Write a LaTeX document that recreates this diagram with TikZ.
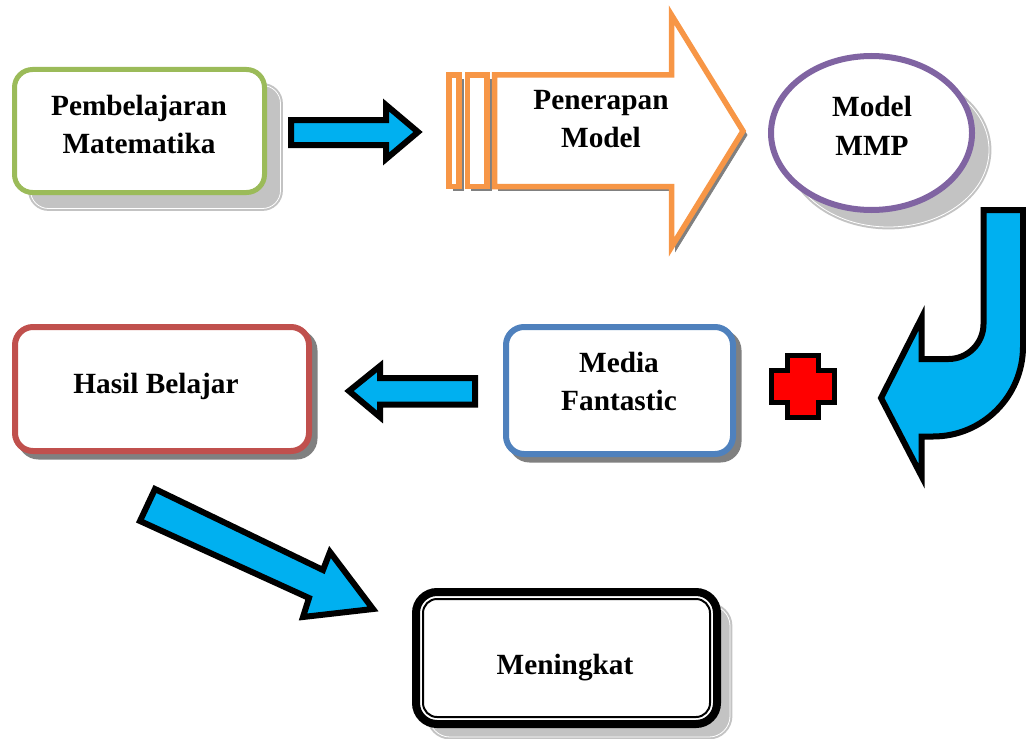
\documentclass[tikz,border=0pt]{standalone}
\usepackage{fontspec}
\setmainfont{Liberation Serif}
\usetikzlibrary{positioning, shapes.geometric, shadows}

\definecolor{pmgreen}{HTML}{9BBB59}
\definecolor{penorange}{HTML}{F79646}
\definecolor{mmppurple}{HTML}{8064A2}
\definecolor{hbred}{HTML}{C0504D}
\definecolor{mfblue}{HTML}{4F81BD}
\definecolor{arrowblue}{HTML}{00B0F0}
\definecolor{crossred}{HTML}{FF0000}
\definecolor{shadowlight}{HTML}{C3C3C3}
\definecolor{shadowdark}{HTML}{808080}

\begin{document}
\begin{tikzpicture}[
    x=0.5pt, y=-0.5pt,
    box/.style={
        rectangle,
        draw,
        fill=white,
        rounded corners=9pt,
        line width=3pt,
        inner sep=0pt,
        outer sep=0pt
    },
    lightshadow/.style={
        drop shadow={shadow xshift=#1, shadow yshift=-#1, opacity=1,
            fill=shadowlight, draw=shadowlight, double=white,
            double distance=0.4pt, line width=1pt}
    },
    darkshadow/.style={
        drop shadow={shadow xshift=#1, shadow yshift=-#1, opacity=1,
            fill=shadowdark, draw=shadowdark}
    },
    txt/.style={
        anchor=base,
        align=center,
        inner sep=0pt,
        font=\fontsize{14.65pt}{19pt}\selectfont\bfseries
    },
    penarrow/.style={
        draw=penorange,
        fill=white,
        line width=2.75pt,
        darkshadow=2pt
    },
    blockarrow/.style={
        draw=black,
        fill=arrowblue,
        line width=3pt
    }
]
\useasboundingbox (0,0) rectangle (1026,738);

% ===== kotak dan elips =====
\node[box, draw=pmgreen, line width=2.5pt, lightshadow=8pt,
    minimum width=125pt, minimum height=61.5pt] (pmbox) at (139.5,131) {};
\node[ellipse, draw=mmppurple, fill=white, line width=3pt, inner sep=0pt,
    lightshadow=8.5pt, minimum width=100.5pt, minimum height=77pt] (mmpbox) at (871.5,133) {};
\node[box, draw=hbred, darkshadow=2.75pt,
    minimum width=147pt, minimum height=62pt] (hbbox) at (162,389) {};
\node[box, draw=mfblue, darkshadow=2.75pt,
    minimum width=113.5pt, minimum height=63.5pt] (mfbox) at (619.5,390.5) {};
\node[box, draw=black, line width=4pt, rounded corners=10.5pt, lightshadow=6.5pt,
    minimum width=150.5pt, minimum height=66pt] (menbox) at (566.5,658) {};
\draw[line width=1pt, rounded corners=7pt]
    ([shift={(3.5pt,-3.5pt)}]menbox.north west) rectangle ([shift={(-3.5pt,3.5pt)}]menbox.south east);

% ===== panah oranye =====
\draw[penarrow] (449,75) rectangle (459,186.5);
\draw[penarrow] (467.5,75) rectangle (487,186.5);
\draw[penarrow] (494.5,75) -- (671.5,75) -- (671.5,15) -- (743,131)
    -- (671.5,247) -- (671.5,186.5) -- (494.5,186.5) -- cycle;

% ===== panah biru =====
\draw[blockarrow] (291,120) -- (386,120) -- (386,105) -- (418,132)
    -- (386,159) -- (386,145) -- (291,145) -- cycle;
\draw[blockarrow] (983.5,210) -- (983.5,324) arc[start angle=0, end angle=90, radius=35]
    -- (921.5,359) -- (921.5,318) -- (881,398) -- (921.5,476) -- (921.5,436.5)
    -- (933,436.5) arc[start angle=90, end angle=0, radius=90] -- (1023,210) -- cycle;
\draw[blockarrow] (475,378) -- (380,378) -- (380,366) -- (349,391)
    -- (380,417) -- (380,404.5) -- (475,404.5) -- cycle;
\draw[blockarrow] (155,489) -- (323,570) -- (330,552) -- (373,609)
    -- (303,617) -- (309,598) -- (140,521) -- cycle;

% ===== tanda plus =====
\draw[draw=black, fill=crossred, line width=2.5pt]
    (787.5,355.5) -- (818.5,355.5) -- (818.5,370.5) -- (834.5,370.5)
    -- (834.5,402.5) -- (818.5,402.5) -- (818.5,417.5) -- (787.5,417.5)
    -- (787.5,402.5) -- (771.5,402.5) -- (771.5,370.5) -- (787.5,370.5) -- cycle;

% ===== teks =====
\node[txt] (pm) at (139,153) {Pembelajaran\\Matematika};
\node[txt] (pen) at (601,148) {Penerapan\\Model};
\node[txt] (mmp) at (872,155) {Model\\MMP};
\node[txt] (mf) at (619,410) {Media\\Fantastic};
\node[txt] (hb) at (156,393) {Hasil Belajar};
\node[txt] (men) at (565,674) {Meningkat};

\end{tikzpicture}
\end{document}
